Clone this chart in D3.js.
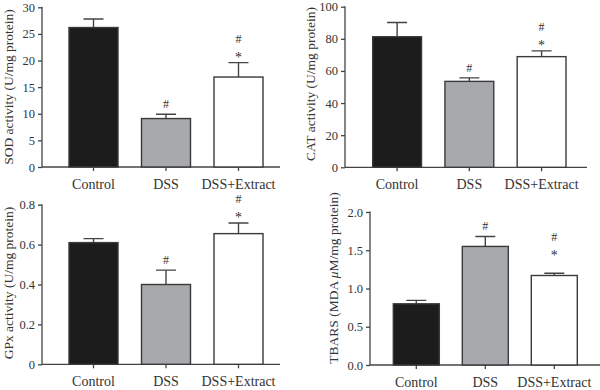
<!DOCTYPE html>
<html>
<head>
<meta charset="utf-8">
<script src="https://cdn.jsdelivr.net/npm/d3@7"></script>
<style>
  body { margin: 0; background: #fff; }
  svg text { font-family: "Liberation Serif", "DejaVu Serif", serif; fill: #333; }
</style>
</head>
<body>
<script>
// groups on the x axis, same for all four panels
var groups = ["Control", "DSS", "DSS+Extract"];
var barColors = ["#1c1c1c", "#a7a9ac", "#ffffff"];

// values (mean and top of the error bar)
var sodMean = [26.2, 9.1, 16.9];
var sodTop = [27.8, 9.9, 19.6];
var catMean = [81.3, 53.5, 68.9];
var catTop = [90.2, 55.7, 72.5];
var gpxMean = [0.61, 0.40, 0.655];
var gpxTop = [0.63, 0.472, 0.708];
var tbarsMean = [0.80, 1.55, 1.17];
var tbarsTop = [0.845, 1.68, 1.20];

// significance marks above each bar
var sodMarks = ["", "#", "*#"];
var catMarks = ["", "#", "*#"];
var gpxMarks = ["", "#", "*#"];
var tbarsMarks = ["", "#", "*#"];

// tick values and labels
var sodTicks = [0, 5, 10, 15, 20, 25, 30];
var catTicks = [0, 20, 40, 60, 80, 100];
var gpxTicks = [0, 0.2, 0.4, 0.6, 0.8];
var gpxTickLabels = ["0", "0.2", "0.4", "0.6", "0.8"];
var tbarsTicks = [0, 0.5, 1.0, 1.5, 2.0];
var tbarsTickLabels = ["0.0", "0.5", "1.0", "1.5", "2.0"];

var svg = d3.select("body").append("svg")
  .attr("width", 600)
  .attr("height", 390);

// one panel = one small bar chart with its own scales
function drawPanel(p) {
  var g = svg.append("g");

  var y = d3.scaleLinear()
    .domain([0, p.max])
    .range([p.bottom, p.top]);

  var x = d3.scaleBand()
    .domain(groups)
    .range([p.barL, p.barR])
    .paddingInner(p.pad)
    .paddingOuter(0);

  // y axis
  var yAxis = d3.axisLeft(y)
    .tickValues(p.ticks)
    .tickSize(4)
    .tickPadding(3)
    .tickFormat((d, i) => p.labels ? p.labels[i] : d);
  var ya = g.append("g")
    .attr("transform", "translate(" + p.axisX + ",0)")
    .call(yAxis);
  ya.select(".domain").attr("stroke", "#444").attr("stroke-width", 1.3)
    .attr("d", "M0," + p.bottom + "V" + (p.top - 0.5));
  ya.selectAll(".tick line").attr("stroke", "#444").attr("stroke-width", 1.3);
  ya.selectAll(".tick text").style("font-size", "12.5px")
    .style("font-family", "'Liberation Serif', serif").attr("fill", "#2a2a2a");

  // x axis
  var xAxis = d3.axisBottom(x).tickSize(4).tickPadding(8);
  var xa = g.append("g")
    .attr("transform", "translate(0," + p.bottom + ")")
    .call(xAxis);
  xa.select(".domain").attr("stroke", "#444").attr("stroke-width", 1.3)
    .attr("d", "M" + p.axisX + ",0H" + p.axisEnd);
  xa.selectAll(".tick line").attr("stroke", "#444").attr("stroke-width", 1.3);
  xa.selectAll(".tick text").style("font-size", "14px")
    .style("font-family", "'Liberation Serif', serif").attr("fill", "#1a1a1a");

  // error bars (upper half only)
  g.selectAll(".err")
    .data(p.top_)
    .enter()
    .append("path")
    .attr("class", "err")
    .attr("fill", "none")
    .attr("stroke", "#444")
    .attr("stroke-width", 1.4)
    .attr("d", (d, i) => {
      var cx = x(groups[i]) + x.bandwidth() / 2;
      return "M" + cx + "," + y(p.mean[i]) + "V" + y(d) +
        "M" + (cx - 10) + "," + y(d) + "H" + (cx + 10);
    });

  // bars
  g.selectAll(".bar")
    .data(p.mean)
    .enter()
    .append("rect")
    .attr("class", "bar")
    .attr("x", (d, i) => x(groups[i]))
    .attr("y", (d) => y(d))
    .attr("width", x.bandwidth())
    .attr("height", (d) => p.bottom - y(d))
    .attr("fill", (d, i) => barColors[i])
    .attr("stroke", "#3a3a3a")
    .attr("stroke-width", 1.4);

  // significance marks, stacked upwards from the error bar
  p.marks.forEach((m, i) => {
    var cx = x(groups[i]) + x.bandwidth() / 2;
    m.split("").forEach((s, k) => {
      var base = y(p.top_[i]) - (p.lift[i] || 0) - 6 - k * 14;
      g.append("text")
        .attr("x", cx)
        .attr("y", s === "*" ? base + 5 : base)
        .attr("text-anchor", "middle")
        .style("font-size", s === "*" ? "14px" : "12px")
        .attr("fill", "#444")
        .text(s);
    });
  });

  // y axis title
  var t = g.append("text")
    .attr("transform", "translate(" + p.titleX + "," + p.titleY + ") rotate(-90)")
    .attr("text-anchor", "middle")
    .attr("dy", "0.35em")
    .style("font-size", "13.5px")
    .attr("fill", "#1a1a1a");
  p.title.forEach((part) => {
    t.append("tspan").style("font-style", part[1] ? "italic" : "normal").text(part[0]);
  });
}

drawPanel({
  max: 30, ticks: sodTicks, mean: sodMean, top_: sodTop, marks: sodMarks, lift: [],
  title: [["SOD activity (U/mg protein)"]],
  axisX: 42, axisEnd: 280, top: 7.3, bottom: 167, barL: 69, barR: 263, pad: 0.324,
  titleX: 8, titleY: 87
});

drawPanel({
  max: 100, ticks: catTicks, mean: catMean, top_: catTop, marks: catMarks, lift: [],
  title: [["CAT activity (U/mg protein)"]],
  axisX: 345, axisEnd: 587, top: 6.7, bottom: 167.3, barL: 372.7, barR: 566, pad: 0.324,
  titleX: 310, titleY: 84
});

drawPanel({
  max: 0.8, ticks: gpxTicks, labels: gpxTickLabels, mean: gpxMean, top_: gpxTop, marks: gpxMarks, lift: [],
  title: [["GPx activity (U/mg protein)"]],
  axisX: 42, axisEnd: 280, top: 204.7, bottom: 364.3, barL: 69, barR: 263, pad: 0.324,
  titleX: 8, titleY: 283
});

drawPanel({
  max: 2.0, ticks: tbarsTicks, labels: tbarsTickLabels, mean: tbarsMean, top_: tbarsTop, marks: tbarsMarks, lift: [0, 0, 12],
  title: [["TBARS (MDA "], ["\u03bc", true], ["M/mg protein)"]],
  axisX: 370, axisEnd: 600, top: 212, bottom: 365, barL: 393.3, barR: 577.3, pad: 0.333,
  titleX: 333, titleY: 278
});
</script>
</body>
</html>
